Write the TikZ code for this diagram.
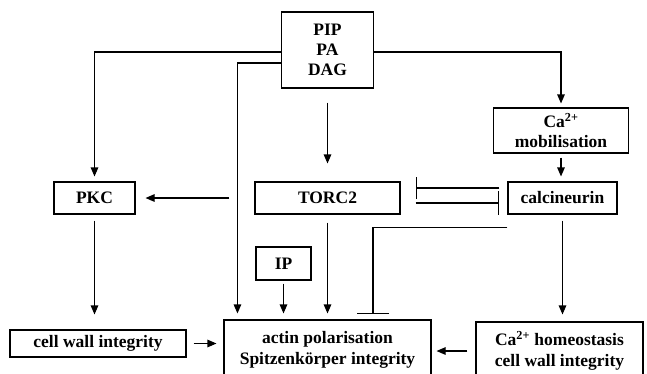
\documentclass[tikz,border=0pt]{standalone}
\usepackage{fontspec}
\setmainfont{Liberation Serif}
\usetikzlibrary{arrows.meta}

\begin{document}
\begin{tikzpicture}[x=1pt,y=-1pt,
  box/.style={draw,line width=1.1pt,inner sep=0pt,align=center,font=\fontsize{17.5}{21}\selectfont\bfseries},
  arr/.style={line width=1.1pt,-{Triangle[width=7.5pt,length=9pt]}},
  inh/.style={line width=1.1pt,-{Bar[width=#1,line width=1.1pt]}}]
  \useasboundingbox (0,0) rectangle (647,373);
  \clip (0,0) rectangle (647,373);

  \node[box,minimum width=92,minimum height=76,font=\fontsize{17.5}{20}\selectfont\bfseries] (pip) at (327.5,50) {PIP\\PA\\DAG};
  \node[box,minimum width=135,minimum height=45,font=\fontsize{17.5}{20}\selectfont\bfseries] (ca) at (561,130.5) {Ca\textsuperscript{2+}\\mobilisation};
  \node[box,minimum width=81,minimum height=32] (pkc) at (94.5,198) {PKC};
  \node[box,minimum width=145,minimum height=32] (torc) at (327.5,198) {TORC2};
  \node[box,minimum width=109,minimum height=32] (calc) at (562.5,198) {calcineurin};
  \node[box,minimum width=55,minimum height=33] (ip) at (283.5,263.5) {IP};
  \node[box,minimum width=176,minimum height=27] (cwi) at (98,343.5) {cell wall integrity};
  \node[box,minimum width=207,minimum height=60] (actin) at (327.5,350) {actin polarisation\\Spitzenkörper integrity};
  \node[box,minimum width=167,minimum height=58] (hom) at (559.5,351) {Ca\textsuperscript{2+} homeostasis\\cell wall integrity};

  \draw[arr] ([yshift=-2pt]pip.west) -| ([yshift=5pt]pkc.north);
  \draw[arr] ([yshift=-13pt]pip.west) -| ([xshift=14pt,yshift=6pt]actin.north west);
  \draw[arr] ([yshift=-2pt]pip.east) -| ([yshift=4pt]ca.north);
  \draw[arr,shorten <=14pt,shorten >=18pt] (pip.south) -- (torc.north);
  \draw[arr,shorten <=4pt,shorten >=5pt] (ca.south) -- (ca.south |- calc.north);

  \draw[arr,shorten <=25pt,shorten >=10pt] (torc.west) -- (pkc.east);
  \draw[inh=22pt] ([xshift=-8pt,yshift=10pt]calc.west) -- ([xshift=15pt,yshift=10pt]torc.east);
  \draw[inh=24pt] ([xshift=15pt,yshift=-5pt]torc.east) -- ([xshift=-8pt,yshift=-5pt]calc.west);

  \draw[arr,shorten <=6pt,shorten >=15pt] (pkc.south) -- (pkc.south |- cwi.north);
  \draw[arr,shorten <=8pt,shorten >=6pt] (torc.south) -- (actin.north);
  \draw[arr,shorten <=3pt,shorten >=6pt] (ip.south) -- (ip.south |- actin.north);
  \draw[inh=32pt] ([yshift=-13pt]calc.south west) -| ([xshift=45.5pt,yshift=5pt]actin.north);
  \draw[arr,shorten <=6pt,shorten >=7pt] (calc.south) -- (calc.south |- hom.north);

  \draw[arr,shorten <=7pt,shorten >=7pt] (cwi.east) -- (cwi.east -| actin.west);
  \draw[arr,shorten <=8pt,shorten >=5pt] (hom.west) -- (hom.west -| actin.east);
\end{tikzpicture}
\end{document}
